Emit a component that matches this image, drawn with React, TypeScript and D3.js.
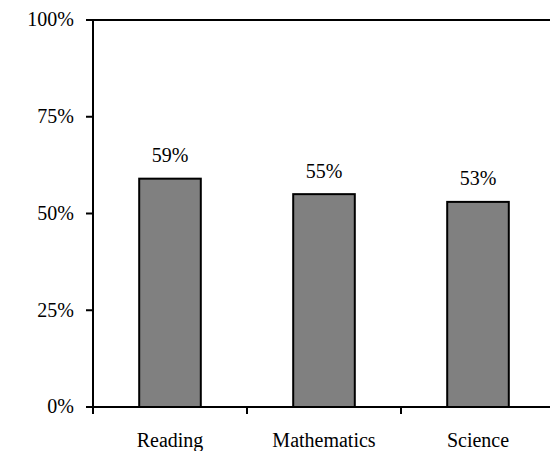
import React from 'react';
import * as d3 from 'd3';

const categories = ['Reading', 'Mathematics', 'Science'];
const values = [59, 55, 53];
const yTicks = [0, 25, 50, 75, 100];

const App: React.FC = () => {
  const width = 550;
  const height = 451;
  const margin = { top: 20, right: -5, bottom: 44, left: 93 };
  const x0 = margin.left;
  const x1 = width - margin.right;
  const yBottom = height - margin.bottom;

  const x = d3.scaleBand<string>().domain(categories).range([x0, x1]).padding(0);
  const y = d3.scaleLinear().domain([0, 100]).range([yBottom, margin.top]);
  const barW = x.bandwidth() * 0.4;
  const bounds = [x0, ...categories.map(c => (x(c) as number) + x.bandwidth())];

  return (
    <svg width={width} height={height}
      style={{ position: 'absolute', left: 0, top: 0, background: '#fff', fontFamily: "'Times New Roman', Times, Tinos, 'Nimbus Roman', 'Nimbus Roman No9 L', FreeSerif, 'Liberation Serif', 'Noto Serif', Georgia, serif", fontSize: '20px' }}>
      {categories.map((c, i) => {
        const bx = (x(c) as number) + (x.bandwidth() - barW) / 2;
        return (
          <g key={c}>
            <rect x={bx} y={y(values[i])} width={barW} height={yBottom - y(values[i])} fill="#808080" stroke="#000" strokeWidth={2} />
            <text x={bx + barW / 2} y={y(values[i]) - 16.5} textAnchor="middle">{values[i]}%</text>
            <text x={bx + barW / 2} y={yBottom + 40} textAnchor="middle">{c}</text>
          </g>
        );
      })}
      {/* frame: top line, left axis, bottom axis */}
      <line x1={x0 - 7} x2={x1} y1={margin.top} y2={margin.top} stroke="#000" strokeWidth={2} />
      <line x1={x0} x2={x0} y1={margin.top} y2={yBottom + 7} stroke="#000" strokeWidth={2} />
      <line x1={x0 - 7} x2={x1} y1={yBottom} y2={yBottom} stroke="#000" strokeWidth={2} />
      {yTicks.map(t => (
        <g key={t}>
          <line x1={x0 - 7} x2={x0} y1={y(t)} y2={y(t)} stroke="#000" strokeWidth={2} />
          <text x={x0 - 19} y={y(t)} dy="0.32em" textAnchor="end">{t}%</text>
        </g>
      ))}
      {bounds.map(b => (
        <line key={b} x1={b} x2={b} y1={yBottom} y2={yBottom + 7} stroke="#000" strokeWidth={2} />
      ))}
    </svg>
  );
};

export default App;
